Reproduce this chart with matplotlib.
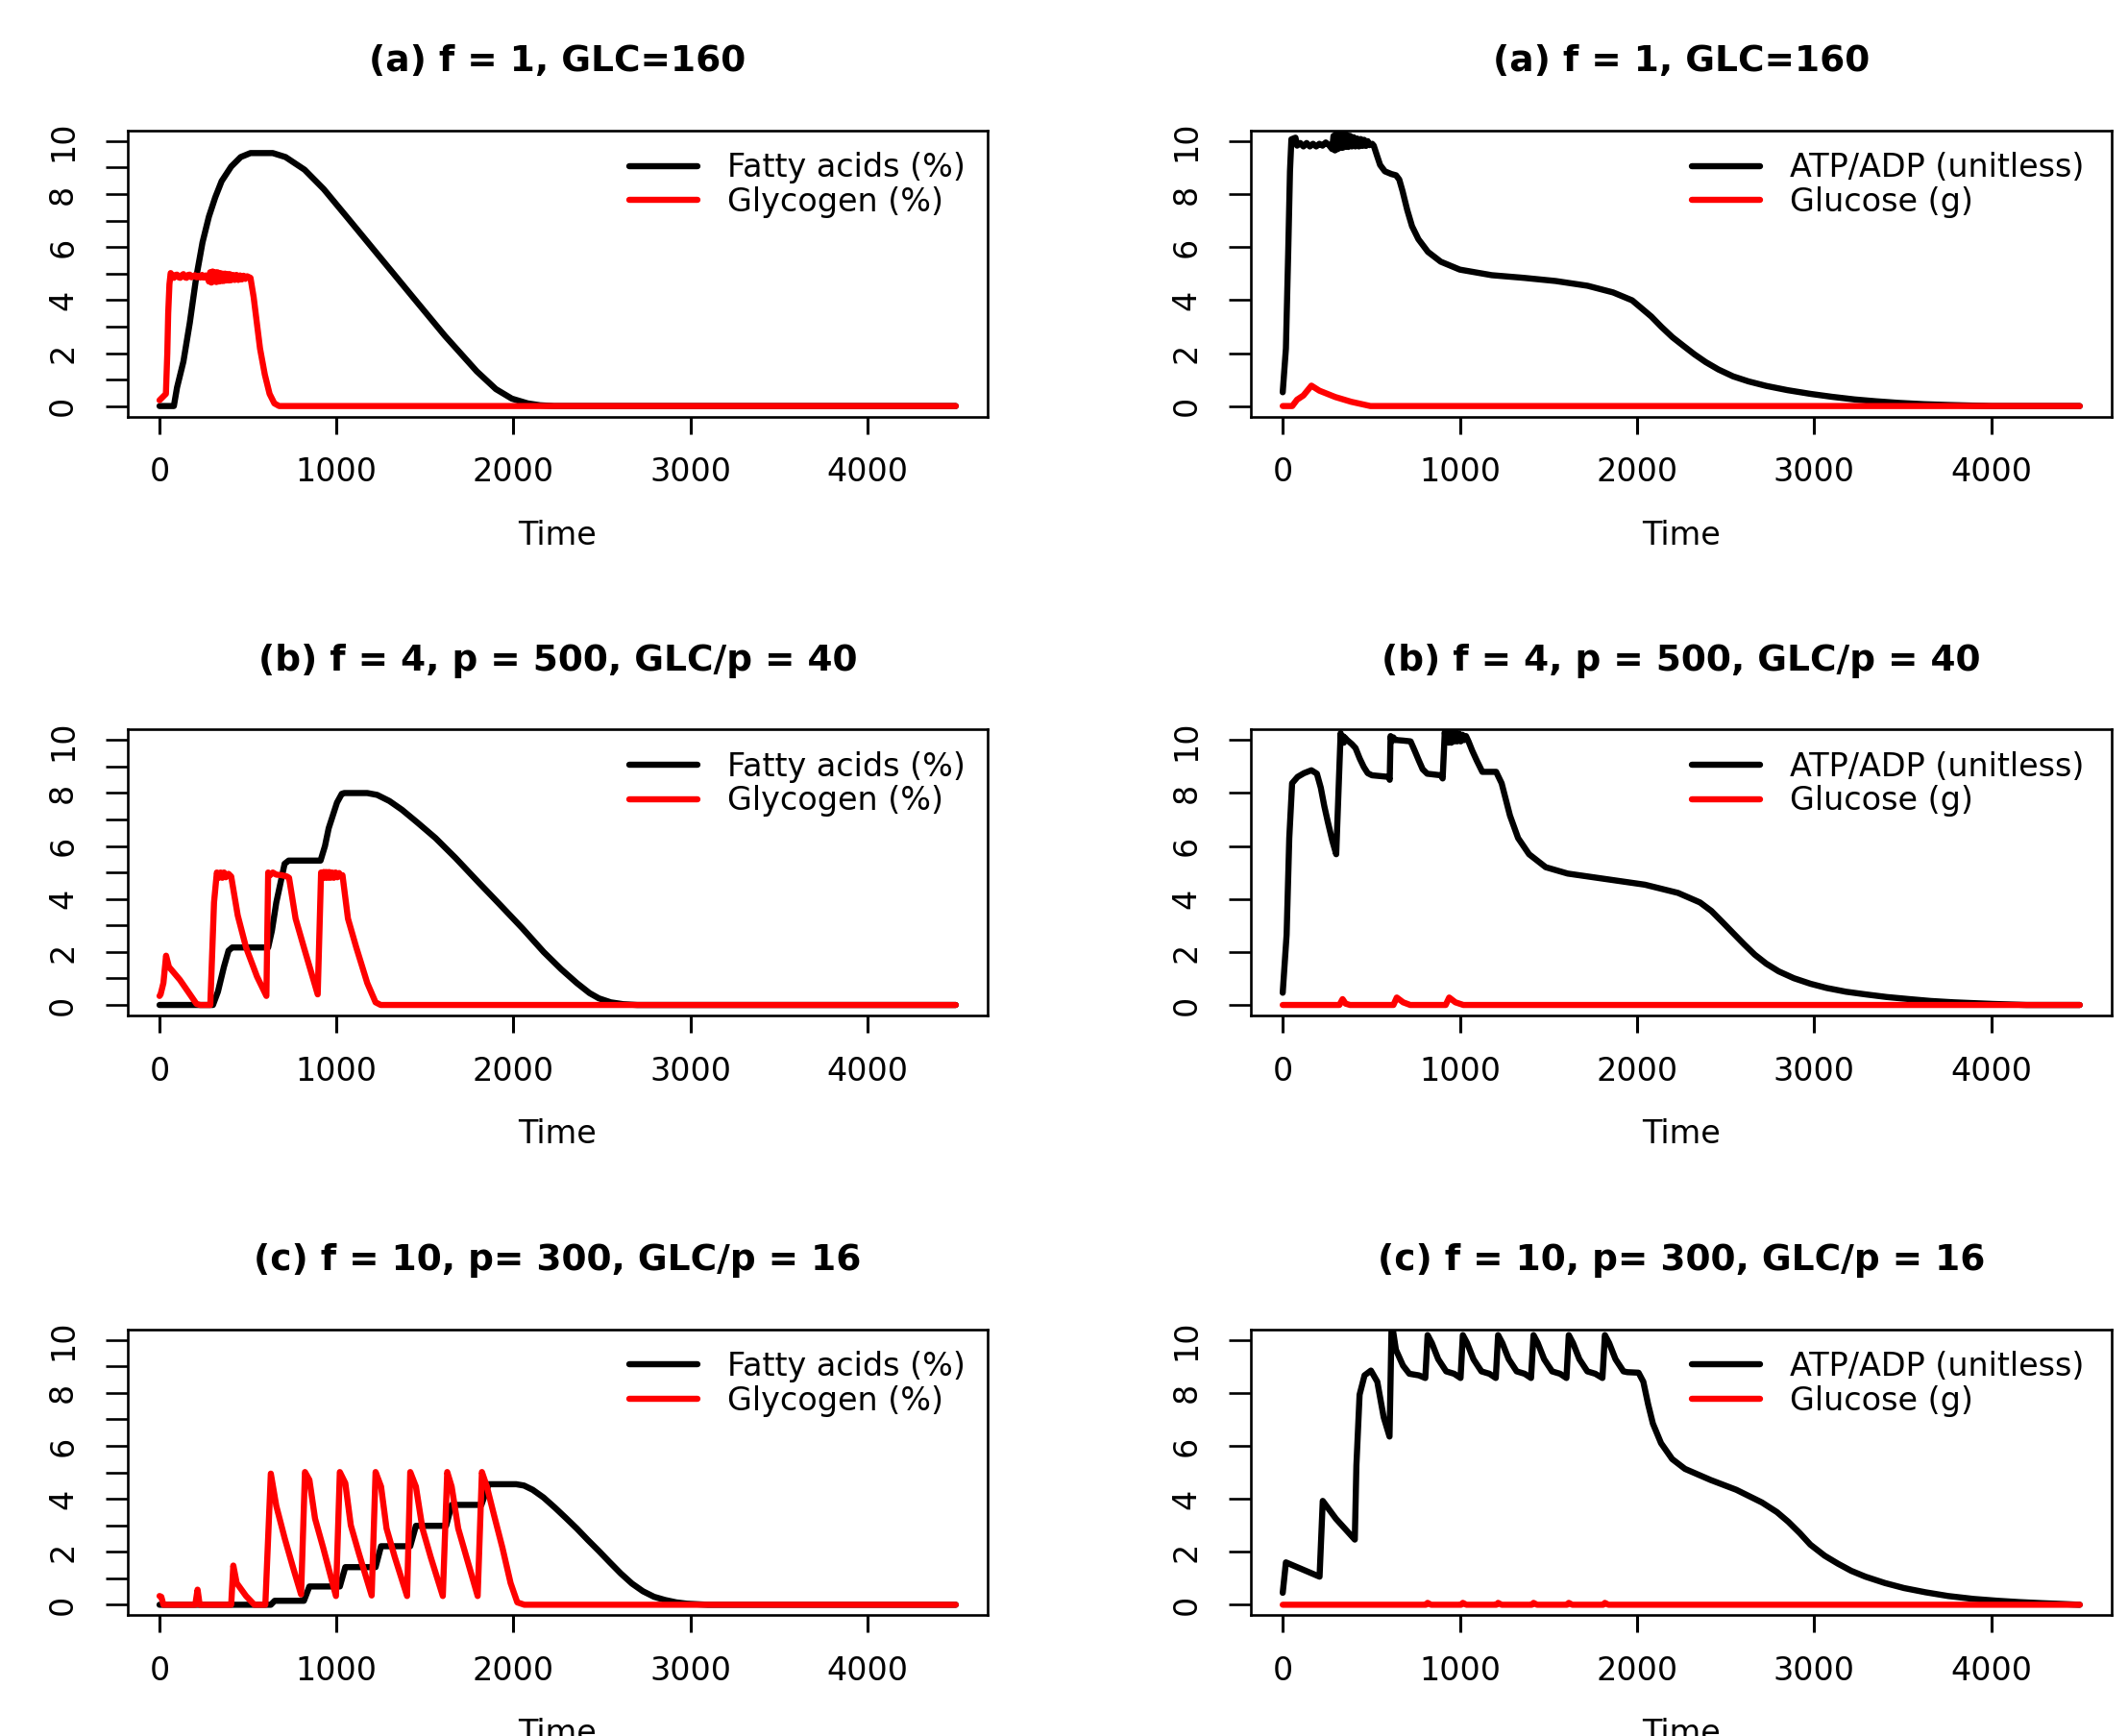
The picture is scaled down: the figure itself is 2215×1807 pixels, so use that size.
import matplotlib
matplotlib.use("Agg")
import matplotlib.pyplot as plt

# ---- data (time, value) ----
# row (a): f = 1, GLC=160
T_FA_A = [0, 81, 99, 135, 171, 207, 243, 279, 315, 351, 405, 459, 514, 640, 712, 820, 928, 1072,
          1252, 1432, 1613, 1793, 1901, 1991, 2081, 2150, 2230, 4500]
FA_A = [0, 0, 0.7, 1.68, 3.14, 4.84, 6.18, 7.15, 7.88, 8.49, 9.04, 9.4, 9.55, 9.55, 9.4, 8.92,
        8.19, 7.03, 5.57, 4.11, 2.65, 1.31, 0.64, 0.28, 0.1, 0.03, 0, 0]

T_GL_A = [0, 18, 36, 44, 49, 56, 63,
          72, 81, 90, 99, 108, 117, 126, 135, 144, 153, 162, 171, 180,
          190, 200, 210, 220, 230, 240, 250, 260, 270,
          279, 286, 293, 300, 307, 314, 321, 328, 335, 342, 349, 356, 363, 370, 377, 384, 391,
          398, 405,
          415, 425, 435, 445, 455, 465, 475, 485, 495,
          514, 532, 550, 568, 595, 622, 649, 676, 4500]
GL_A = [0.22, 0.34, 0.46, 2.0, 3.5, 4.6, 5.02,
        4.9, 4.84, 4.95, 4.96, 4.86, 4.84, 4.94, 4.98, 4.86, 4.84, 4.95, 4.96, 4.86,
        4.9, 4.94, 4.86, 4.92, 4.85, 4.95, 4.85, 4.93, 4.86,
        4.7, 5.05, 4.66, 5.08, 4.7, 5.05, 4.68, 5.05, 4.7, 5.02, 4.72, 5.0, 4.72, 5.0, 4.74,
        4.98, 4.74, 4.98, 4.75,
        4.95, 4.76, 4.95, 4.76, 4.93, 4.78, 4.92, 4.8, 4.9,
        4.84, 4.11, 3.14, 2.17, 1.19, 0.46, 0.1, 0, 0]

T_AT_A = [0, 18, 31, 41, 49, 72, 81,
          99, 117, 135, 153, 171, 189, 207, 225, 243, 261,
          279, 287, 295, 303, 311, 319, 327, 333, 339, 345, 351,
          360, 370, 380, 390, 400, 410, 420, 430, 440, 450, 460, 470, 480, 490,
          505, 514, 532, 550, 577, 613, 640, 658, 676, 703, 730, 766, 820, 892, 1000,
          1180, 1360, 1541, 1721, 1865, 1973, 2081, 2138, 2200, 2263, 2325, 2388, 2460, 2543,
          2630, 2730, 2850, 2979, 3100, 3228, 3350, 3477, 3620, 3757, 4000, 4500]
AT_A = [0.52, 2.17, 5.8, 8.86, 10.07, 10.13, 9.83,
        9.93, 9.8, 9.93, 9.8, 9.9, 9.8, 9.9, 9.83, 9.95, 9.85,
        9.7, 10.2, 9.65, 10.3, 9.7, 10.35, 9.75, 10.5, 9.75, 10.3, 9.78,
        10.25, 9.78, 10.2, 9.8, 10.15, 9.8, 10.1, 9.8, 10.08, 9.82, 10.05, 9.82, 10.0, 9.85,
        9.9, 9.83, 9.46, 9.1, 8.86, 8.76, 8.71, 8.55, 8.13, 7.4, 6.79, 6.3, 5.82, 5.45, 5.15,
        4.94, 4.84, 4.72, 4.54, 4.29, 3.99, 3.38, 2.99, 2.6, 2.27, 1.95, 1.66, 1.38, 1.12,
        0.93, 0.76, 0.6, 0.46, 0.35, 0.25, 0.18, 0.12, 0.07, 0.04, 0, 0]

T_GC_A = [0, 54, 81, 117, 162, 207, 297, 387, 495, 4500]
GC_A = [0, 0, 0.24, 0.4, 0.77, 0.58, 0.34, 0.16, 0, 0]

# row (b): f = 4, p = 500, GLC/p = 40
T_FA_B = [0, 302, 330, 364, 390, 411, 614, 635, 660, 707, 730, 910, 935, 956, 1003, 1030, 1044,
          1174, 1230, 1299, 1370, 1455, 1560, 1673, 1800, 1922, 2050, 2171, 2270, 2358, 2430,
          2483, 2550, 2620, 2700, 4500]
FA_B = [0, 0, 0.5, 1.44, 2.05, 2.17, 2.17, 2.8, 3.87, 5.33, 5.45, 5.45, 6.0, 6.67, 7.64, 7.97,
        8.0, 8.0, 7.93, 7.7, 7.37, 6.9, 6.3, 5.55, 4.65, 3.8, 2.9, 2.0, 1.35, 0.83, 0.45, 0.25,
        0.1, 0.03, 0, 0]

T_GL_B = [0, 6, 22, 37, 53, 115, 178, 209, 230, 287, 308, 324, 335, 345, 355, 365, 375, 390, 405,
          442, 489, 551, 604, 614, 625, 640, 660, 690, 720, 732, 769, 816, 894, 913, 920, 928,
          935, 942, 950, 958, 966, 975, 985, 995, 1005, 1015, 1025, 1034, 1065, 1112, 1174, 1221,
          1250, 4500]
GL_B = [0.34, 0.4, 0.83, 1.86, 1.44, 0.95, 0.34, 0.04, 0, 0, 3.87, 5.0, 4.8, 5.0, 4.8, 5.0, 4.82,
        4.95, 4.85, 3.38, 2.17, 1.07, 0.34, 5.0, 4.9, 5.0, 4.92, 4.9, 4.85, 4.8, 3.26, 2.17, 0.4,
        5.0, 4.8, 5.02, 4.8, 5.02, 4.8, 5.02, 4.8, 5.0, 4.8, 5.0, 4.82, 4.98, 4.85, 4.9, 3.26,
        2.17, 0.83, 0.1, 0, 0]

T_AT_B = [0, 22, 37, 53, 84, 120, 162, 193, 215, 235, 255, 280, 302, 327, 333, 340, 345, 350,
          364, 390, 411, 435, 458, 480, 504, 598, 604, 609, 615, 625, 635, 644, 680, 722, 745,
          769, 790, 816, 893, 903, 915, 922, 930, 937, 945, 952, 960, 968, 976, 985, 995, 1005,
          1015, 1025, 1035, 1049, 1070, 1096, 1127, 1205, 1236, 1283, 1329, 1391, 1485, 1609,
          1796, 2045, 2232, 2356, 2420, 2481, 2545, 2605, 2665, 2730, 2800, 2886, 2980, 3072,
          3180, 3290, 3410, 3539, 3660, 3788, 4006, 4200, 4500]
AT_B = [0.46, 2.65, 6.3, 8.37, 8.61, 8.75, 8.86, 8.73, 8.2, 7.5, 6.9, 6.2, 5.69, 10.26, 9.9,
        10.15, 9.9, 10.1, 10.0, 9.85, 9.7, 9.3, 8.98, 8.75, 8.67, 8.61, 8.5, 10.15, 9.95, 10.1,
        10.0, 10.0, 9.98, 9.95, 9.6, 9.22, 8.9, 8.73, 8.67, 8.55, 10.3, 9.9, 10.3, 9.9, 10.3,
        9.9, 10.3, 9.95, 10.3, 9.95, 10.25, 9.95, 10.2, 10.0, 10.15, 9.95, 9.6, 9.22, 8.8, 8.8,
        8.37, 7.15, 6.3, 5.69, 5.2, 4.96, 4.78, 4.54, 4.23, 3.87, 3.55, 3.14, 2.7, 2.29, 1.9,
        1.56, 1.27, 1.01, 0.8, 0.64, 0.5, 0.4, 0.3, 0.22, 0.15, 0.1, 0.04, 0, 0]

T_GC_B = [0, 320, 338, 355, 380, 625, 644, 680, 720, 920, 940, 975, 1020, 4500]
GC_B = [0, 0, 0.22, 0.05, 0, 0, 0.28, 0.1, 0, 0, 0.28, 0.1, 0, 0]

# row (c): f = 10, p= 300, GLC/p = 16
T_FA_C = [0, 629, 651, 816, 847, 1019, 1050, 1221, 1252, 1417, 1449, 1620, 1651, 1819, 1860,
          2016, 2060, 2109, 2170, 2234, 2296, 2358, 2420, 2483, 2545, 2607, 2670, 2732, 2795,
          2857, 2920, 2981, 3100, 4500]
FA_C = [0, 0, 0.15, 0.15, 0.69, 0.69, 1.42, 1.42, 2.21, 2.21, 2.98, 2.98, 3.77, 3.77, 4.55, 4.55,
        4.5, 4.34, 4.05, 3.67, 3.28, 2.88, 2.45, 2.03, 1.6, 1.18, 0.8, 0.51, 0.3, 0.18, 0.09,
        0.04, 0, 0]

T_GL_C = [0, 10, 22, 202, 215, 227, 405, 417, 436, 489, 536, 598, 629, 660, 707, 754, 800, 822,
          847, 879, 925, 997, 1019, 1050, 1081, 1128, 1199, 1221, 1252, 1283, 1330, 1399, 1417,
          1449, 1486, 1533, 1601, 1626, 1651, 1688, 1735, 1798, 1822, 1850, 1891, 1938, 1984,
          2022, 2062, 4500]
GL_C = [0.33, 0.3, 0, 0, 0.57, 0, 0, 1.48, 0.82, 0.33, 0, 0, 4.95, 3.73, 2.52, 1.42, 0.39, 5.01,
        4.71, 3.25, 2.15, 0.33, 5.01, 4.59, 3.0, 1.91, 0.35, 5.01, 4.46, 2.88, 1.79, 0.33, 5.01,
        4.46, 2.88, 1.79, 0.33, 5.01, 4.46, 2.88, 1.79, 0.33, 5.01, 4.46, 3.37, 2.15, 0.82,
        0.09, 0, 0]

T_AT_C = [0, 18, 208, 226, 300, 407, 416, 434, 462, 498, 534, 570, 603, 615, 639, 679, 715, 769,
          805,
          818, 842, 878, 923, 968, 1004,
          1017, 1041, 1077, 1122, 1167, 1203,
          1216, 1240, 1276, 1321, 1366, 1402,
          1416, 1440, 1476, 1521, 1566, 1602,
          1615, 1639, 1675, 1720, 1765, 1805,
          1819, 1843, 1879, 1924, 1946, 2009, 2036, 2063, 2090, 2136, 2199, 2271, 2416, 2561,
          2706, 2790, 2855, 2920, 2979, 3060, 3135, 3210, 3290, 3400, 3508, 3630, 3757, 3900,
          4037, 4160, 4286, 4400, 4500]
AT_C = [0.45, 1.6, 1.06, 3.92, 3.25, 2.46, 5.26, 7.93, 8.66, 8.84, 8.42, 7.08, 6.35, 10.7, 9.63,
        9.03, 8.72, 8.66, 8.56,
        10.18, 9.88, 9.27, 8.81, 8.72, 8.56,
        10.18, 9.88, 9.27, 8.81, 8.72, 8.56,
        10.18, 9.88, 9.27, 8.81, 8.72, 8.56,
        10.18, 9.88, 9.27, 8.81, 8.72, 8.56,
        10.18, 9.88, 9.27, 8.81, 8.72, 8.56,
        10.18, 9.88, 9.27, 8.81, 8.78, 8.76, 8.42, 7.57, 6.84, 6.1, 5.5, 5.13, 4.71, 4.34,
        3.86, 3.5, 3.13, 2.7, 2.27, 1.85, 1.55, 1.28, 1.06, 0.82, 0.63, 0.47, 0.33, 0.22,
        0.15, 0.1, 0.06, 0.03, 0]

T_GC_C = [0, 808, 818, 838, 1007, 1017, 1037, 1206, 1216, 1236, 1406, 1416, 1436, 1605, 1615,
          1635, 1809, 1819, 1839, 4500]
GC_C = [0, 0, 0.07, 0, 0, 0.07, 0, 0, 0.07, 0, 0, 0.07, 0, 0, 0.07, 0, 0, 0.07, 0, 0]

TITLES = ["(a) f = 1, GLC=160",
          "(b) f = 4, p = 500, GLC/p = 40",
          "(c) f = 10, p= 300, GLC/p = 16"]
LEFT_LABELS = ["Fatty acids (%)", "Glycogen (%)"]
RIGHT_LABELS = ["ATP/ADP (unitless)", "Glucose (g)"]
X_TICKS = [0, 1000, 2000, 3000, 4000]

FS = 24
LW = 4.6


def style_axes(ax, minor_y):
    """Give an axes the look of an R base-graphics panel."""
    ax.set_xlim(-180, 4680)
    ax.set_ylim(-0.4, 10.4)
    for sp in ax.spines.values():
        sp.set_linewidth(1.9)
    ax.set_xticks(X_TICKS, [str(x) for x in X_TICKS])
    if minor_y:
        yt = list(range(0, 11))
        ylab = [str(v) if v % 2 == 0 else "" for v in yt]
    else:
        yt = list(range(0, 11, 2))
        ylab = [str(v) for v in yt]
    ax.set_yticks(yt, ylab, rotation=90, va="center")
    ax.tick_params(axis="x", length=13, width=2.2, pad=17, labelsize=FS)
    ax.tick_params(axis="y", length=16.5, width=1.9, pad=20, labelsize=FS)
    ax.set_xlabel("Time", fontsize=FS)
    ax.xaxis.set_label_coords(0.5, -0.415)
    ax.xaxis.label.set_va("center")


def draw_panel(ax, t1, y1, t2, y2, labels, title, legend_x, minor_y):
    ax.plot(t1, y1, color="black", lw=LW, solid_joinstyle="round",
            solid_capstyle="round", label=labels[0])
    ax.plot(t2, y2, color="#ff0000", lw=LW, solid_joinstyle="round",
            solid_capstyle="round", label=labels[1])
    style_axes(ax, minor_y)
    ax.text(0.5, 1.24, title, transform=ax.transAxes, ha="center", va="center",
            fontsize=27, fontweight="bold")
    ax.legend(loc="upper left", bbox_to_anchor=(legend_x, 0.925), frameon=False,
              fontsize=FS, handlelength=2.15, handletextpad=0.93, labelspacing=0.08,
              borderpad=0, borderaxespad=0)


def main():
    fig = plt.figure(figsize=(22.15, 18.07), dpi=100)
    bottoms = [0.7600, 0.4150, 0.0695]
    h = 0.1648
    left_series = [(T_FA_A, FA_A, T_GL_A, GL_A),
                   (T_FA_B, FA_B, T_GL_B, GL_B),
                   (T_FA_C, FA_C, T_GL_C, GL_C)]
    right_series = [(T_AT_A, AT_A, T_GC_A, GC_A),
                    (T_AT_B, AT_B, T_GC_B, GC_B),
                    (T_AT_C, AT_C, T_GC_C, GC_C)]
    for i in range(3):
        axl = fig.add_axes([0.0600, bottoms[i], 0.4041, h])
        draw_panel(axl, *left_series[i], LEFT_LABELS, TITLES[i], 0.583, True)
        axr = fig.add_axes([0.5878, bottoms[i], 0.4045, h])
        draw_panel(axr, *right_series[i], RIGHT_LABELS, TITLES[i], 0.512, False)
    fig.savefig("out.png", dpi=100)


if __name__ == "__main__":
    main()
